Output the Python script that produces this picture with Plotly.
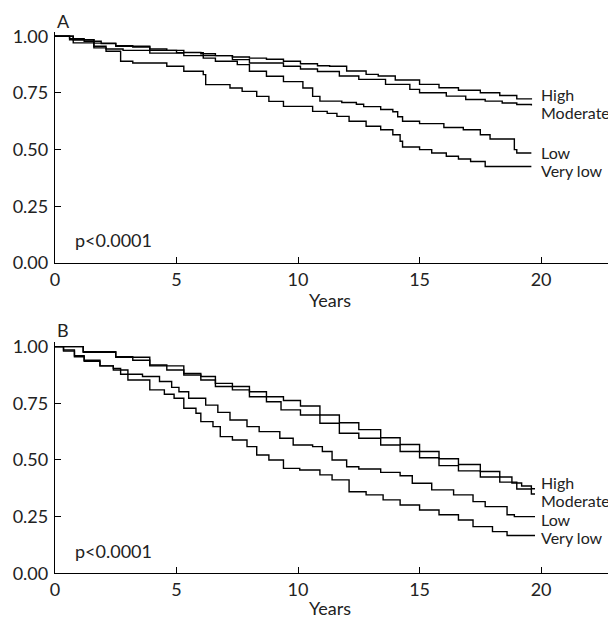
import plotly.graph_objects as go

# ---- panel A : survival by group ----
a_high_t = [0, 0.6, 1.2, 1.9, 2.5, 3.2, 3.9, 4.6, 5.3, 6.0, 6.6, 7.3, 8.0, 8.7, 9.4, 10.1, 10.8, 11.3, 12.0, 12.8, 13.3, 14.0, 15.0, 15.8, 16.6, 17.5, 18.3, 19.0, 19.6]
a_high_s = [1.0, 0.99, 0.978, 0.968, 0.959, 0.953, 0.944, 0.938, 0.929, 0.923, 0.915, 0.909, 0.904, 0.899, 0.89, 0.879, 0.87, 0.868, 0.847, 0.832, 0.825, 0.807, 0.788, 0.773, 0.762, 0.751, 0.739, 0.724, 0.721]

a_mod_t = [0, 0.6, 1.6, 2.5, 3.9, 5.0, 6.1, 7.3, 8.0, 9.4, 10.1, 10.8, 11.7, 12.5, 13.6, 14.6, 15.0, 16.1, 16.9, 17.7, 18.4, 19.0, 19.6]
a_mod_s = [1.0, 0.985, 0.97, 0.956, 0.938, 0.928, 0.915, 0.897, 0.882, 0.868, 0.856, 0.845, 0.825, 0.81, 0.788, 0.766, 0.751, 0.736, 0.721, 0.714, 0.706, 0.699, 0.695]

a_low_t = [0, 0.75, 1.6, 2.1, 2.8, 3.9, 5.3, 6.1, 6.6, 7.5, 8.0, 8.7, 9.4, 10.2, 10.6, 10.9, 11.8, 12.4, 12.7, 13.4, 13.9, 14.1, 14.3, 15.0, 16.0, 16.8, 17.5, 17.9, 18.9, 19.0, 19.6]
a_low_s = [1.0, 0.985, 0.956, 0.944, 0.938, 0.926, 0.915, 0.904, 0.89, 0.875, 0.846, 0.824, 0.80, 0.772, 0.735, 0.714, 0.708, 0.70, 0.69, 0.677, 0.667, 0.645, 0.625, 0.615, 0.598, 0.588, 0.566, 0.547, 0.50, 0.485, 0.485]

a_vlow_t = [0, 0.75, 1.6, 2.1, 2.7, 3.2, 4.6, 5.3, 6.1, 6.2, 7.2, 7.7, 8.3, 8.8, 9.4, 10.6, 11.2, 11.6, 12.1, 12.8, 13.4, 13.9, 14.2, 14.3, 15.0, 15.5, 16.1, 16.6, 17.1, 17.7, 19.6]
a_vlow_s = [1.0, 0.971, 0.949, 0.934, 0.89, 0.882, 0.868, 0.846, 0.831, 0.787, 0.772, 0.757, 0.735, 0.713, 0.691, 0.669, 0.66, 0.647, 0.625, 0.603, 0.588, 0.566, 0.537, 0.512, 0.50, 0.485, 0.471, 0.459, 0.448, 0.426, 0.426]

# ---- panel B ----
b_high_t = [0, 1.16, 2.5, 3.2, 3.9, 4.6, 5.3, 6.0, 6.6, 7.3, 8.0, 8.7, 9.4, 10.1, 10.9, 11.7, 12.5, 13.4, 14.2, 15.0, 15.8, 16.6, 17.5, 18.3, 18.8, 19.2, 19.6, 19.75]
b_high_s = [1.0, 0.978, 0.956, 0.94, 0.919, 0.897, 0.882, 0.868, 0.838, 0.824, 0.801, 0.779, 0.762, 0.738, 0.698, 0.664, 0.634, 0.598, 0.568, 0.537, 0.505, 0.48, 0.449, 0.425, 0.398, 0.385, 0.373, 0.373]

b_mod_t = [0, 1.16, 2.5, 3.9, 5.3, 6.0, 6.6, 7.3, 8.0, 8.7, 9.3, 10.1, 10.9, 11.7, 12.5, 13.4, 14.2, 15.0, 15.8, 16.6, 17.5, 18.3, 19.0, 19.6, 19.75]
b_mod_s = [1.0, 0.975, 0.953, 0.915, 0.875, 0.853, 0.824, 0.809, 0.779, 0.757, 0.721, 0.698, 0.662, 0.618, 0.596, 0.566, 0.537, 0.51, 0.475, 0.452, 0.425, 0.402, 0.372, 0.35, 0.35]

b_low_t = [0, 0.35, 0.8, 1.2, 1.85, 2.4, 2.7, 3.6, 4.3, 4.8, 5.1, 5.5, 6.2, 6.7, 7.2, 7.9, 8.4, 9.25, 9.8, 10.6, 11.0, 11.4, 12.0, 12.5, 13.4, 14.2, 14.7, 15.5, 16.4, 17.2, 17.7, 18.6, 18.9, 19.75]
b_low_s = [1.0, 0.985, 0.96, 0.94, 0.915, 0.904, 0.878, 0.868, 0.846, 0.82, 0.801, 0.772, 0.742, 0.71, 0.676, 0.647, 0.625, 0.596, 0.566, 0.559, 0.537, 0.50, 0.47, 0.46, 0.445, 0.43, 0.397, 0.368, 0.346, 0.316, 0.294, 0.258, 0.25, 0.25]

b_vlow_t = [0, 0.35, 0.8, 1.2, 1.85, 2.4, 3.0, 3.9, 4.5, 4.9, 5.3, 5.8, 6.0, 6.5, 6.8, 7.3, 7.9, 8.3, 8.8, 9.4, 10.07, 10.9, 11.4, 12.1, 12.8, 13.5, 14.2, 15.0, 15.8, 16.6, 17.2, 18.0, 18.6, 19.75]
b_vlow_s = [1.0, 0.98, 0.955, 0.935, 0.915, 0.897, 0.853, 0.809, 0.79, 0.772, 0.728, 0.706, 0.669, 0.647, 0.603, 0.588, 0.559, 0.522, 0.50, 0.463, 0.456, 0.434, 0.412, 0.36, 0.346, 0.324, 0.301, 0.279, 0.258, 0.235, 0.206, 0.184, 0.167, 0.167]

group_names = ["High", "Moderate", "Low", "Very low"]
a_label_y = [0.745, 0.663, 0.487, 0.41]
b_label_y = [0.40, 0.319, 0.238, 0.159]

FONT = "Lato"
TXT = dict(family=FONT, size=18, color="#222")
LAB = dict(family=FONT, size=16, color="#222")
fig = go.Figure()

panelA = [(a_high_t, a_high_s), (a_mod_t, a_mod_s), (a_low_t, a_low_s), (a_vlow_t, a_vlow_s)]
panelB = [(b_high_t, b_high_s), (b_mod_t, b_mod_s), (b_low_t, b_low_s), (b_vlow_t, b_vlow_s)]

for t, s in panelA:
    fig.add_trace(go.Scatter(x=t, y=s, mode="lines", line=dict(color="black", width=1.4, shape="hv"),
                             xaxis="x", yaxis="y", showlegend=False, hoverinfo="skip"))
for t, s in panelB:
    fig.add_trace(go.Scatter(x=t, y=s, mode="lines", line=dict(color="black", width=1.4, shape="hv"),
                             xaxis="x2", yaxis="y2", showlegend=False, hoverinfo="skip"))

ax = dict(range=[0, 23], tickvals=[0, 5, 10, 15, 20], ticks="inside", ticklen=6, tickcolor="black",
          showline=True, linecolor="black", linewidth=1.3, showgrid=False, zeroline=False,
          automargin=False, tickfont=TXT)
ay = dict(range=[0, 1.02], tickvals=[0, 0.25, 0.5, 0.75, 1.0], ticktext=["0.00", "0.25", "0.50", "0.75", "1.00"],
          ticks="inside", ticklen=6, tickcolor="black", showline=True, linecolor="black", linewidth=1.3,
          showgrid=False, zeroline=False, ticklabelstandoff=2, automargin=False, tickfont=TXT)

# page has an 8px body margin, so the figure is shifted; keep it narrow enough to fit
fig.update_layout(
    width=608, height=618,
    margin=dict(l=47, r=2, t=0, b=0),
    plot_bgcolor="white", paper_bgcolor="white",
    xaxis=dict(ax, domain=[0, 1], anchor="y"),
    yaxis=dict(ay, domain=[0.5874, 0.9615], anchor="x"),
    xaxis2=dict(ax, domain=[0, 1], anchor="y2"),
    yaxis2=dict(ay, domain=[0.0853, 0.4594], anchor="x2"),
)

notes = []
for xr, yr, lab_y, panel, yy, py in [("x", "y", a_label_y, "A", 1.047, -0.16), ("x2", "y2", b_label_y, "B", 1.052, -0.15)]:
    for name, ly in zip(group_names, lab_y):
        notes.append(dict(x=19.93, y=ly, xref=xr, yref=yr, text=name, showarrow=False,
                          xanchor="left", yanchor="middle", font=LAB))
    notes.append(dict(x=0.74, y=0.10, xref=xr, yref=yr, text="p<0.0001", showarrow=False,
                      xanchor="left", yanchor="middle", font=TXT))
    notes.append(dict(x=0, y=yy, xref=xr, yref=yr + " domain", text=panel, showarrow=False,
                      xanchor="left", yanchor="middle", font=TXT))
    notes.append(dict(x=11.3, y=py, xref=xr, yref=yr + " domain", text="Years", showarrow=False,
                      xanchor="center", yanchor="middle", font=TXT))
fig.update_layout(annotations=notes)

fig.write_html("out.html")
